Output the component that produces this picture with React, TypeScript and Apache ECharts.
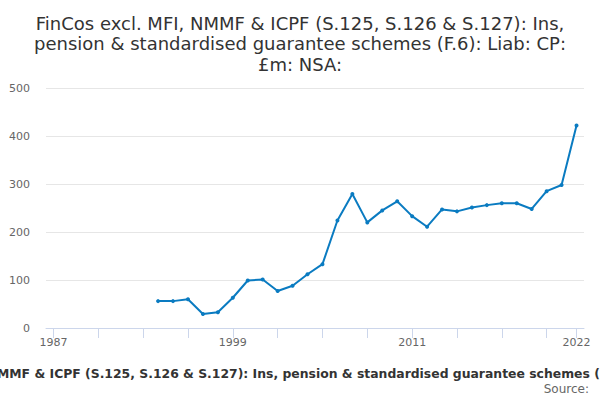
import React, { useEffect, useRef } from "react";
import * as echarts from "echarts";

const TITLE =
  "FinCos excl. MFI, NMMF & ICPF (S.125, S.126 & S.127): Ins, pension & standardised guarantee schemes (F.6): Liab: CP: £m: NSA:";
const TITLE_LINES = [
  "FinCos excl. MFI, NMMF & ICPF (S.125, S.126 & S.127): Ins,",
  "pension & standardised guarantee schemes (F.6): Liab: CP:",
  "£m: NSA:",
];

const years: string[] = [];
for (let y = 1987; y <= 2022; y++) years.push(String(y));

// values from 1994 to 2022
const firstYear = 1994;
const values = [
  56, 56, 60, 29, 33, 63, 99, 101, 77, 88, 112, 133, 224, 279, 220, 245, 264,
  233, 211, 247, 243, 251, 256, 260, 260, 248, 285, 298, 422,
];

const labelYears = ["1987", "1999", "2011", "2022"];

export default function App() {
  const ref = useRef<HTMLDivElement>(null);
  useEffect(() => {
    document.body.style.margin = "0";
    if (!ref.current) return;
    const chart = echarts.init(ref.current, null, { renderer: "svg" });
    const seriesData = years.map((y) => {
      const idx = Number(y) - firstYear;
      return idx >= 0 && idx < values.length ? values[idx] : null;
    });
    chart.setOption({
      animation: false,
      textStyle: { fontFamily: "DejaVu Sans" },
      title: {
        text: TITLE_LINES.join("\n"),
        left: "center",
        top: 8,
        textStyle: {
          fontFamily: "DejaVu Sans",
          fontSize: 18,
          fontWeight: "normal",
          color: "#333333",
          lineHeight: 20.5,
        },
      },
      graphic: [
        {
          type: "text",
          right: 11,
          top: 383,
          style: {
            text: "Source:",
            fontFamily: "DejaVu Sans",
            fontSize: 12,
            fill: "#666666",
          },
        },
      ],
      grid: {
        left: 46,
        right: 16,
        top: 88,
        bottom: 72,
        containLabel: false,
        outerBoundsMode: "none",
      },
      xAxis: {
        type: "category",
        data: years,
        boundaryGap: true,
        name: TITLE,
        nameLocation: "middle",
        nameGap: 39,
        nameTextStyle: {
          fontFamily: "DejaVu Sans",
          fontSize: 12.4,
          fontWeight: "bold",
          color: "#333333",
        },
        axisLine: { show: true, lineStyle: { color: "#ccd6eb", width: 1 } },
        axisTick: {
          show: true,
          alignWithLabel: true,
          length: 10,
          lineStyle: { color: "#ccd6eb", width: 1 },
          interval: (i: number) => i % 3 === 0 || i === years.length - 1,
        },
        axisLabel: {
          interval: (i: number, v: string) => labelYears.includes(v),
          color: "#666666",
          fontSize: 11,
          margin: 9,
        },
        splitLine: { show: false },
      },
      yAxis: {
        type: "value",
        min: 0,
        max: 500,
        interval: 100,
        axisLine: { show: false },
        axisTick: { show: false },
        axisLabel: { color: "#666666", fontSize: 11, margin: 16 },
        splitLine: { lineStyle: { color: "#e6e6e6" } },
      },
      series: [
        {
          type: "line",
          data: seriesData,
          connectNulls: false,
          symbol: "circle",
          symbolSize: 4,
          lineStyle: { color: "#0a7bc1", width: 2 },
          itemStyle: { color: "#0a7bc1" },
        },
      ],
    });
    return () => chart.dispose();
  }, []);
  return <div ref={ref} style={{ width: 600, height: 400 }} />;
}
